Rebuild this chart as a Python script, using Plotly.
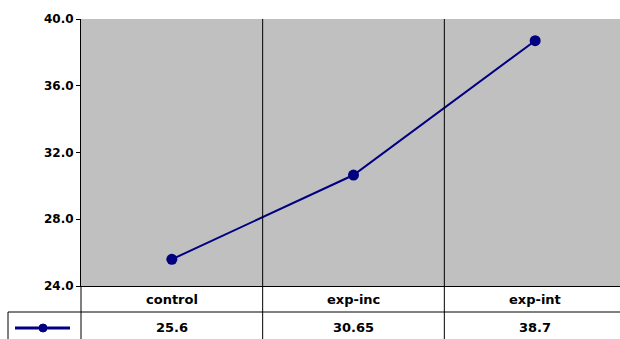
import plotly.graph_objects as go

categories = ["control", "exp-inc", "exp-int"]
values = [25.6, 30.65, 38.7]
value_labels = ["25.6", "30.65", "38.7"]
y_ticks = [24, 28, 32, 36, 40]

W, H = 626, 339
L, R, T, B = 81, 0, 19, 53
pw, ph = W - L - R, H - T - B

def px(x):
    return (x - L) / pw

def py(y):
    return (H - B - y) / ph

FONT = dict(family="DejaVu Sans", size=13, color="black", weight="bold")
TICKFONT = dict(family="DejaVu Sans", size=12, color="black", weight="bold")
NAVY = "#000080"

fig = go.Figure()
fig.add_trace(go.Scatter(
    x=list(range(len(categories))), y=values, mode="lines+markers",
    line=dict(color=NAVY, width=2), marker=dict(color=NAVY, size=11),
    name="", showlegend=False,
))

shapes = []
shapes.append(dict(type="line", xref="paper", yref="paper", x0=px(8), x1=1, y0=py(312), y1=py(312),
                   line=dict(color="black", width=1)))
shapes.append(dict(type="line", xref="paper", yref="paper", x0=0, x1=0, y0=0, y1=py(H),
                   line=dict(color="black", width=1)))
shapes.append(dict(type="line", xref="paper", yref="paper", x0=px(8), x1=px(8), y0=py(312), y1=py(H),
                   line=dict(color="black", width=1)))
for i in range(len(categories) - 1):
    shapes.append(dict(type="line", xref="x", yref="paper", x0=i + 0.5, x1=i + 0.5, y0=py(H), y1=1,
                       line=dict(color="black", width=1)))
# legend key in the data-table row
shapes.append(dict(type="line", xref="paper", yref="paper", x0=px(15), x1=px(70), y0=py(328), y1=py(328),
                   line=dict(color=NAVY, width=3)))
shapes.append(dict(type="circle", xref="paper", yref="paper", x0=px(39), x1=px(47), y0=py(332), y1=py(324),
                   fillcolor=NAVY, line=dict(color=NAVY, width=1)))

annotations = []
for i, (c, v) in enumerate(zip(categories, value_labels)):
    annotations.append(dict(x=i, y=py(299), xref="x", yref="paper", text=c, showarrow=False,
                            font=FONT, xanchor="center", yanchor="middle"))
    annotations.append(dict(x=i, y=py(327), xref="x", yref="paper", text=v, showarrow=False,
                            font=FONT, xanchor="center", yanchor="middle"))

fig.update_layout(
    width=W, height=H, autosize=False,
    margin=dict(l=L, r=R, t=T, b=B, autoexpand=False),
    paper_bgcolor="white", plot_bgcolor="#C0C0C0",
    shapes=shapes, annotations=annotations,
    xaxis=dict(range=[-0.5, len(categories) - 0.5], tickvals=list(range(len(categories))),
               showticklabels=False, ticks="", showgrid=False,
               showline=True, linecolor="black", linewidth=1, zeroline=False),
    yaxis=dict(range=[24, 40], tickvals=y_ticks, tickformat=".1f", tickfont=TICKFONT,
               ticksuffix="\u00a0\u00a0",
               ticks="outside", ticklen=4, tickcolor="black", showgrid=False,
               showline=True, linecolor="black", linewidth=1, zeroline=False),
)

fig.write_html(
    "out.html",
    config=dict(displayModeBar=False, responsive=False),
    post_script="document.documentElement.style.overflow='hidden';document.body.style.margin='0';document.body.style.overflow='hidden';",
)
